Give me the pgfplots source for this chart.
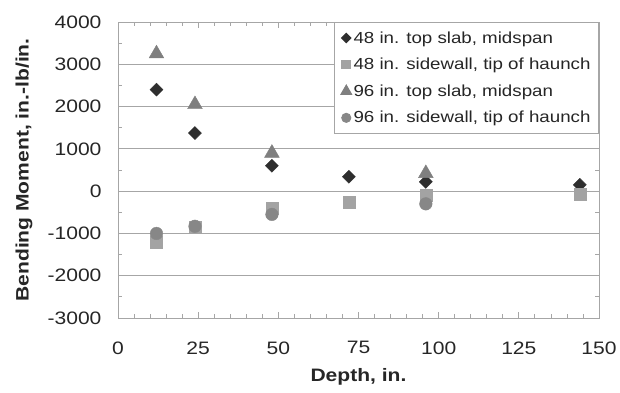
\documentclass[border=0pt]{standalone}
\usepackage{pgfplots}
\pgfplotsset{compat=1.18}
\usepackage{fontspec}
\setmainfont[FakeStretch=1.17]{Liberation Sans}
\definecolor{gridc}{HTML}{A6A6A6}
\definecolor{c1}{HTML}{2E2E2E}
\definecolor{c2}{HTML}{A3A3A3}
\definecolor{c3}{HTML}{7F7F7F}
\definecolor{c4}{HTML}{878787}
\begin{document}
\begin{tikzpicture}[x=1pt,y=1pt]
\useasboundingbox (0,0) rectangle (620,392);
\begin{axis}[
  at={(118pt,74pt)}, anchor=south west,
  scale only axis, width=481pt, height=296pt,
  xmin=0, xmax=150, ymin=-3000, ymax=4000,
  xtick={0,25,...,150}, ytick={-3000,-2000,...,4000},
  minor x tick num=4, minor y tick num=1,
  ymajorgrids, major grid style={gridc, line width=1pt},
  axis line style={gridc, line width=1pt},
  tick style={gridc, line width=0.8pt},
  tick align=inside,
  major tick length=6pt, minor tick length=4pt,
  major y tick style={draw=none}, minor y tick style={gridc, line width=0.8pt},
  xticklabels={0,25,50,75,100,125,150},
  yticklabels={-3000,-2000,-1000,0,1000,2000,3000,4000},
  tick label style={font=\fontsize{18}{20}\selectfont, text=black!85},
  xticklabel style={yshift=-20pt},
  yticklabel style={xshift=-13pt},
  xlabel={\textbf{Depth, in.}},
  ylabel={\textbf{Bending Moment, in.-lb/in.}},
  label style={font=\fontsize{18}{20}\selectfont, text=black!85},
  xlabel style={at={(axis description cs:0.5,0)}, anchor=center, yshift=-59pt},
  ylabel style={at={(axis description cs:0,0.5)}, anchor=center, rotate=0, xshift=0pt, yshift=94pt},
  legend style={at={(rel axis cs:1,1)}, anchor=north east, draw=gridc, line width=1pt,
    fill=white, font=\fontsize{16}{17}\selectfont, text=black!85,
    row sep=9.5pt, inner xsep=6pt, inner ysep=7pt},
  legend cell align=left,
  legend image code/.code={\draw[#1, every mark/.append style={scale=0.72}] plot coordinates {(0.2cm,0cm)};},
  clip=false,
]
\addplot[only marks, mark=square*, mark size=4.6pt, mark options={rotate=45, fill=c1, draw=c1}]
  coordinates {(12,2400) (24,1375) (48,600) (72,340) (96,220) (144,150)};
\addlegendentry{48 in. top slab, midspan}
\addplot[only marks, mark=square*, mark size=6pt, mark options={fill=c2, draw=c2}]
  coordinates {(12,-1200) (24,-850) (48,-400) (72,-250) (96,-100) (144,-75)};
\addlegendentry{48 in. sidewall, tip of haunch}
\addplot[only marks, mark=triangle*, mark size=8.5pt, mark options={fill=c3, draw=c3}]
  coordinates {(12,3250) (24,2050) (48,900) (96,420)};
\addlegendentry{96 in. top slab, midspan}
\addplot[only marks, mark=*, mark size=6.3pt, mark options={fill=c4, draw=c4}]
  coordinates {(12,-1000) (24,-830) (48,-550) (96,-300)};
\addlegendentry{96 in. sidewall, tip of haunch}
\end{axis}
\end{tikzpicture}
\end{document}
